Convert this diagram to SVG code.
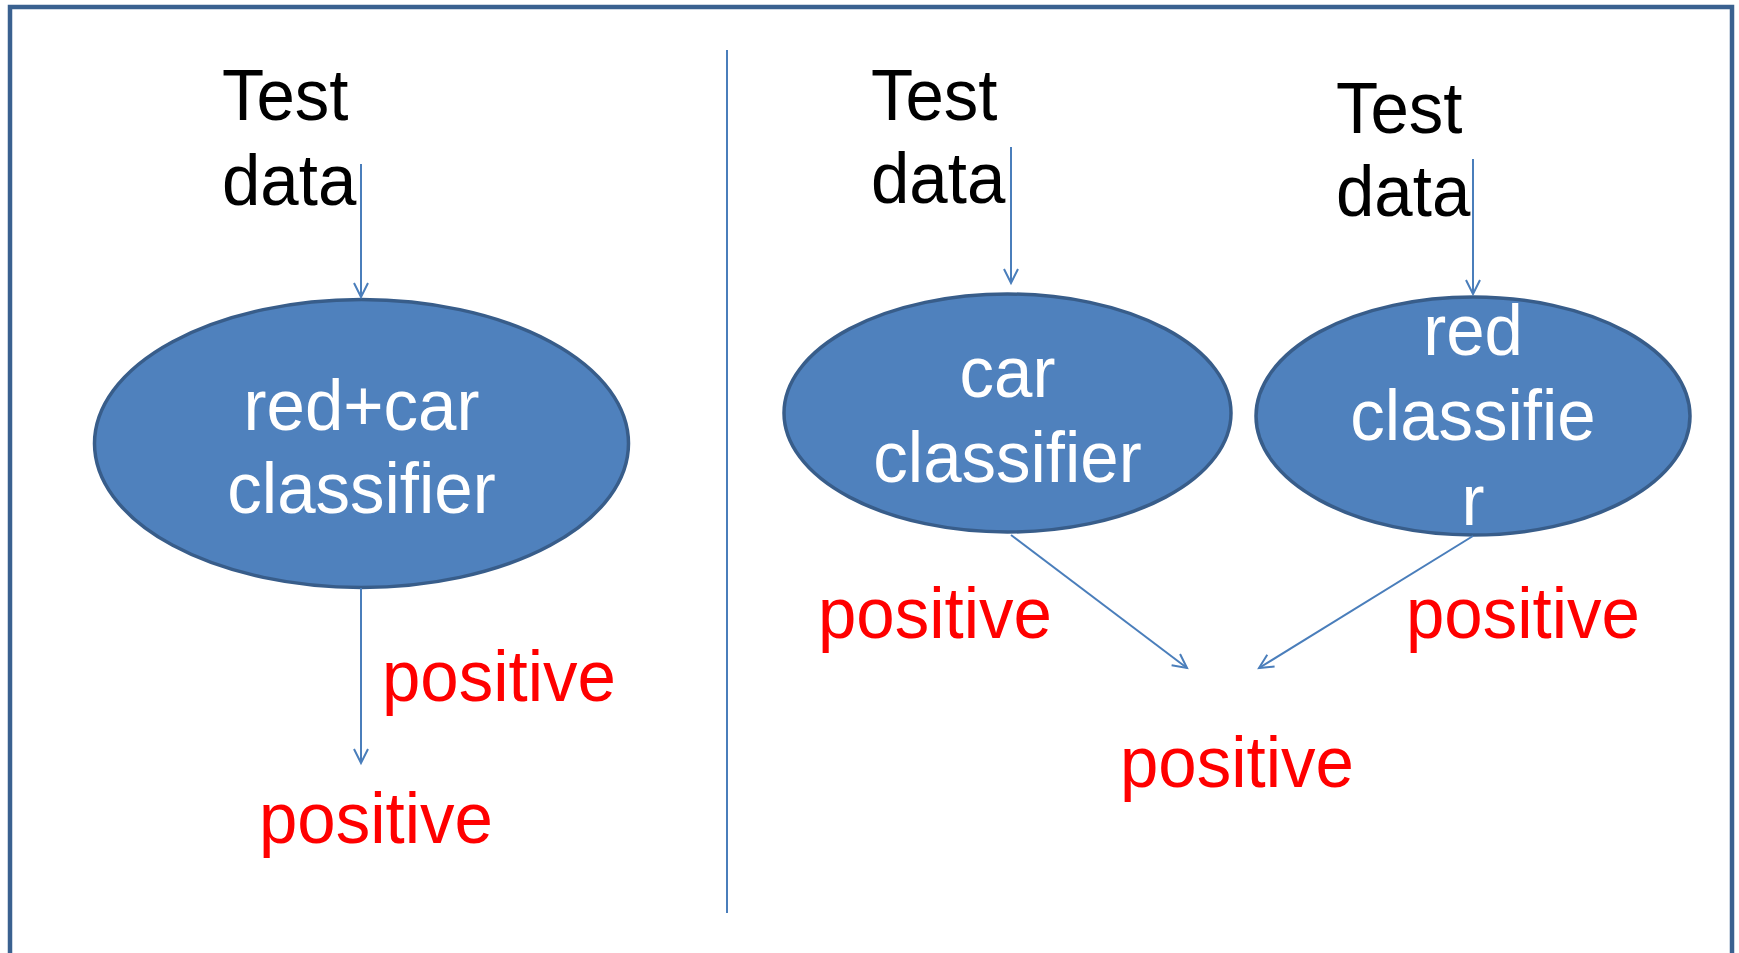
<svg xmlns="http://www.w3.org/2000/svg" width="1739" height="953" viewBox="0 0 1739 953">
<style>
.txt{font-family:"Liberation Sans",Arial,sans-serif;font-size:69px}
.blk{fill:#000}
.wht{fill:#fff;text-anchor:middle}
.red{fill:#ff0000}
.node{fill:#4F81BD;stroke:#385D8A;stroke-width:3.5}
.conn{stroke:#4A7EBB;stroke-width:2;fill:none}
</style>
<defs>
<marker id="arr" markerWidth="18" markerHeight="18" refX="15" refY="8" orient="auto" markerUnits="userSpaceOnUse">
<path d="M1,1 L15,8 L1,15" fill="none" stroke="#4A7EBB" stroke-width="2"/>
</marker>
</defs>
<rect x="0" y="0" width="1739" height="953" fill="#fff"/>
<rect id="frame" x="10" y="7" width="1722" height="960" fill="none" stroke="#3A6190" stroke-width="4.5"/>
<line id="divider" x1="727" y1="50" x2="727" y2="913" stroke="#4A7EBB" stroke-width="2"/>

<g id="left-test">
<text class="txt blk" transform="translate(222,120) scale(1,1.05)">Test</text>
<text class="txt blk" transform="translate(222,205) scale(1,1.05)">data</text>
</g>
<g id="left-classifier">
<ellipse class="node" cx="361.5" cy="443.5" rx="267" ry="144"/>
<text class="txt wht" transform="translate(361.5,430) scale(1,1.05)">red+car</text>
<text class="txt wht" transform="translate(361.5,513) scale(1,1.05)">classifier</text>
</g>
<g id="left-pos-label"><text class="txt red" transform="translate(382,701) scale(1,1.05)">positive</text></g>
<g id="left-positive"><text class="txt red" transform="translate(259,843) scale(1,1.05)">positive</text></g>

<g id="mid-test">
<text class="txt blk" transform="translate(871,120) scale(1,1.05)">Test</text>
<text class="txt blk" transform="translate(871,203) scale(1,1.05)">data</text>
</g>
<g id="car-classifier">
<ellipse class="node" cx="1007.5" cy="413" rx="223.5" ry="119"/>
<text class="txt wht" transform="translate(1007.5,397) scale(1,1.05)">car</text>
<text class="txt wht" transform="translate(1007.5,482) scale(1,1.05)">classifier</text>
</g>
<g id="right-test">
<text class="txt blk" transform="translate(1336,133) scale(1,1.05)">Test</text>
<text class="txt blk" transform="translate(1336,216) scale(1,1.05)">data</text>
</g>
<g id="red-classifier">
<ellipse class="node" cx="1473" cy="416" rx="217" ry="119"/>
<text class="txt wht" transform="translate(1473,355) scale(1,1.05)">red</text>
<text class="txt wht" transform="translate(1473,440) scale(1,1.05)">classifie</text>
<text class="txt wht" transform="translate(1473,525) scale(1,1.05)">r</text>
</g>
<g id="car-pos-label"><text class="txt red" transform="translate(818,638) scale(1,1.05)">positive</text></g>
<g id="red-pos-label"><text class="txt red" transform="translate(1406,638) scale(1,1.05)">positive</text></g>
<g id="right-positive"><text class="txt red" transform="translate(1120,787) scale(1,1.05)">positive</text></g>

<g id="connectors">
<line class="conn" x1="361" y1="164" x2="361" y2="297" marker-end="url(#arr)"/>
<line class="conn" x1="361" y1="588" x2="361" y2="763" marker-end="url(#arr)"/>
<line class="conn" x1="1011" y1="147" x2="1011" y2="283" marker-end="url(#arr)"/>
<line class="conn" x1="1473" y1="159" x2="1473" y2="294" marker-end="url(#arr)"/>
<line class="conn" x1="1011" y1="535" x2="1187" y2="668" marker-end="url(#arr)"/>
<line class="conn" x1="1473" y1="536" x2="1259" y2="668" marker-end="url(#arr)"/>
</g>
</svg>
